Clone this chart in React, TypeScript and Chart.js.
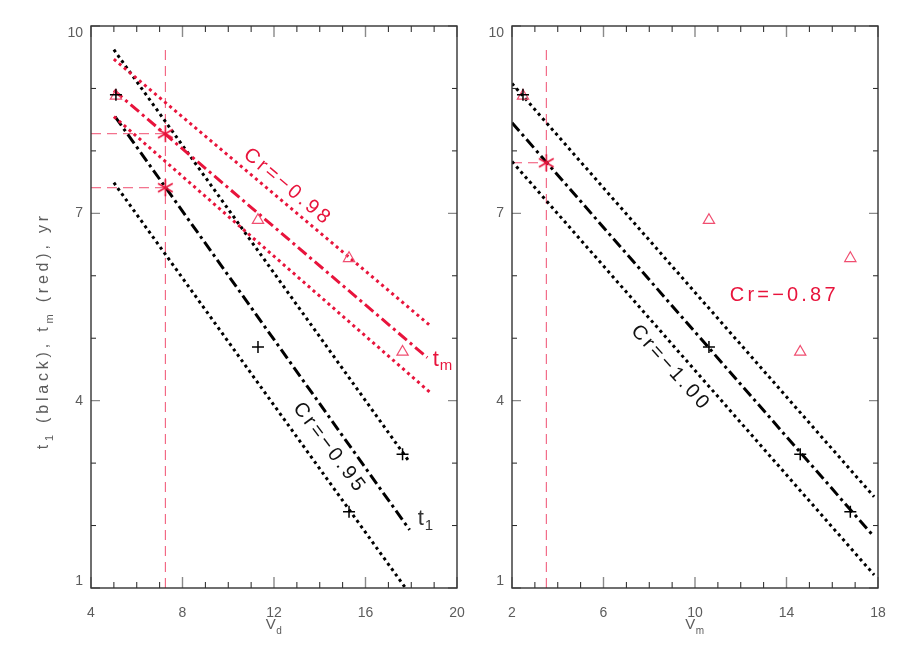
import React, { useEffect, useRef } from "react";
import { Chart, registerables } from "chart.js";
Chart.register(...registerables);

// ---- data ----
const vd = [5.09, 11.3, 15.28, 17.62];
const vm = [2.48, 10.61, 16.79, 14.6];
const t1 = [8.9, 4.86, 2.22, 3.14];
const tm = [8.88, 6.89, 6.28, 4.78];

const leftXTicks = [4, 8, 12, 16, 20];
const rightXTicks = [2, 6, 10, 14, 18];
const yTicks = [1, 4, 7, 10];

// marked (asterisk) points
const leftStarX = [7.25, 7.25];
const leftStarY = [7.41, 8.275];
const rightStarX = [3.5];
const rightStarY = [7.81];

// regression lines: [x0, y0, x1, y1]
const leftT1Fit = [5.05, 8.55, 17.93, 1.93];
const leftT1Upper = [5.0, 9.62, 17.9, 3.03];
const leftT1Lower = [5.0, 7.49, 17.75, 1.0];
const leftTmFit = [5.0, 8.97, 18.7, 4.69];
const leftTmUpper = [5.0, 9.47, 18.8, 5.21];
const leftTmLower = [5.0, 8.55, 18.8, 4.14];
const rightFit = [2.0, 8.45, 17.83, 1.82];
const rightUpper = [2.0, 9.08, 17.83, 2.46];
const rightLower = [2.0, 7.83, 17.83, 1.21];

const guideTop = 9.67;

const RED = "rgb(232, 20, 60)";
const PINK = "rgb(240, 78, 112)";
const GRAY = "#5c5c5c";
const FONT = "'Liberation Sans', Arial, sans-serif";

function asterisk(color: string, r: number) {
  const c = document.createElement("canvas");
  const s = Math.ceil(r * 2 + 4);
  c.width = s;
  c.height = s;
  const g = c.getContext("2d")!;
  g.strokeStyle = color;
  g.lineWidth = 1.6;
  g.translate(s / 2, s / 2);
  for (let k = 0; k < 3; k++) {
    const a = Math.PI / 2 + (k * Math.PI) / 3;
    g.beginPath();
    g.moveTo(Math.cos(a) * r, Math.sin(a) * r);
    g.lineTo(-Math.cos(a) * r, -Math.sin(a) * r);
    g.stroke();
  }
  return c;
}

type Part = { t: string; sub?: boolean };
type Label = {
  parts: Part[];
  x: number;
  y: number;
  angle: number;
  color: string;
  size: number;
  align: "center" | "left";
  spacing?: number;
};

function drawParts(ctx: CanvasRenderingContext2D, parts: Part[], size: number, align: string, spacing: number) {
  const subSize = Math.round(size * 0.68);
  let total = 0;
  const widths = parts.map((p) => {
    ctx.font = `${p.sub ? subSize : size}px ${FONT}`;
    (ctx as any).letterSpacing = "0px";
    const w = ctx.measureText(p.t).width + spacing * p.t.length;
    total += w;
    return w;
  });
  let x = align === "center" ? -total / 2 : 0;
  parts.forEach((p, i) => {
    ctx.font = `${p.sub ? subSize : size}px ${FONT}`;
    (ctx as any).letterSpacing = "0px";
    let cx = x;
    for (const ch of p.t) {
      ctx.fillText(ch, cx, p.sub ? size * 0.3 : 0);
      cx += ctx.measureText(ch).width + spacing;
    }
    x += widths[i];
  });
}

function makeConfig(opts: {
  xmin: number;
  xmax: number;
  xTicks: number[];
  yAxisWidth: number;
  padRight: number;
  xTitle: Part[];
  yTitle: Part[] | null;
  labels: Label[];
  datasets: any[];
}) {
  const framePlugin = {
    id: "frame",
    afterDatasetsDraw(chart: any) {
      const { ctx, chartArea: a, scales } = chart;
      const xs = scales.x;
      const ys = scales.y;
      ctx.save();
      for (let v = opts.xmin; v <= opts.xmax; v += 1) {
        const px = xs.getPixelForValue(v);
        const major = opts.xTicks.includes(v);
        const len = major ? 11 : 6;
        ctx.strokeStyle = major ? "#8a8a8a" : "#222";
        ctx.lineWidth = major ? 1.4 : 1;
        ctx.beginPath();
        ctx.moveTo(px, a.bottom);
        ctx.lineTo(px, a.bottom - len);
        ctx.moveTo(px, a.top);
        ctx.lineTo(px, a.top + len);
        ctx.stroke();
      }
      for (let v = 1; v <= 10; v += 1) {
        const py = ys.getPixelForValue(v);
        const major = yTicks.includes(v);
        const len = major ? 9 : 5;
        ctx.strokeStyle = major ? "#8a8a8a" : "#222";
        ctx.lineWidth = major ? 1.4 : 1;
        ctx.beginPath();
        ctx.moveTo(a.left, py);
        ctx.lineTo(a.left + len, py);
        ctx.moveTo(a.right, py);
        ctx.lineTo(a.right - len, py);
        ctx.stroke();
      }
      ctx.strokeStyle = "#333";
      ctx.lineWidth = 1.4;
      ctx.strokeRect(a.left, a.top, a.right - a.left, a.bottom - a.top);
      ctx.restore();
    },
    afterDraw(chart: any) {
      const { ctx, chartArea: a, scales } = chart;
      const xs = scales.x;
      const ys = scales.y;
      ctx.save();
      ctx.textBaseline = "middle";
      ctx.textAlign = "left";
      for (const L of opts.labels) {
        ctx.save();
        ctx.translate(xs.getPixelForValue(L.x), ys.getPixelForValue(L.y));
        ctx.rotate((L.angle * Math.PI) / 180);
        ctx.fillStyle = L.color;
        drawParts(ctx, L.parts, L.size, L.align, L.spacing ?? 0);
        ctx.restore();
      }
      // x title
      ctx.fillStyle = GRAY;
      ctx.textBaseline = "alphabetic";
      ctx.save();
      ctx.translate((a.left + a.right) / 2, a.bottom + 41);
      drawParts(ctx, opts.xTitle, 15, "center", 0.5);
      ctx.restore();
      if (opts.yTitle) {
        ctx.save();
        ctx.translate(48, ys.getPixelForValue(5.12));
        ctx.rotate(-Math.PI / 2);
        drawParts(ctx, opts.yTitle, 16, "center", 3.8);
        ctx.restore();
      }
      ctx.restore();
    },
  };

  return {
    type: "scatter" as const,
    data: { datasets: opts.datasets },
    options: {
      animation: false as const,
      responsive: false,
      layout: { padding: { top: 26, right: opts.padRight, left: 0, bottom: 0 } },
      plugins: { legend: { display: false }, tooltip: { enabled: false }, title: { display: false } },
      scales: {
        x: {
          type: "linear" as const,
          min: opts.xmin,
          max: opts.xmax,
          grid: { display: false, drawTicks: false },
          border: { display: false },
          afterBuildTicks: (s: any) => {
            s.ticks = opts.xTicks.map((v) => ({ value: v }));
          },
          afterFit: (s: any) => {
            s.height = 66;
            s.paddingLeft = 0;
            s.paddingRight = 0;
          },
          ticks: {
            color: GRAY,
            padding: 17,
            maxRotation: 0,
            font: { family: FONT, size: 14 },
            callback: (v: any) => String(v),
          },
        },
        y: {
          type: "linear" as const,
          min: 1,
          max: 10,
          grid: { display: false, drawTicks: false },
          border: { display: false },
          afterBuildTicks: (s: any) => {
            s.ticks = yTicks.map((v) => ({ value: v }));
          },
          afterFit: (s: any) => {
            s.width = opts.yAxisWidth;
            s.paddingTop = 0;
            s.paddingBottom = 0;
          },
          ticks: {
            color: GRAY,
            padding: 8,
            font: { family: FONT, size: 14, lineHeight: 1 },
            callback: (v: any) => (v === 10 ? ["", "10"] : v === 1 ? ["1", ""] : String(v)),
          },
        },
      },
    },
    plugins: [framePlugin],
  };
}

function seg(p: number[], color: string, dash: number[], width: number) {
  return {
    data: [
      { x: p[0], y: p[1] },
      { x: p[2], y: p[3] },
    ],
    showLine: true,
    borderColor: color,
    borderDash: dash,
    borderWidth: width,
    borderCapStyle: "butt",
    pointRadius: 0,
    fill: false,
  };
}

const DOT = [3, 3.6];
const DASHDOT = [11, 4, 3, 4];
const GUIDE = [10, 6];

function markers(xs: number[], ys: number[], style: any, color: string, radius: number, bw: number) {
  return {
    data: xs.map((x, i) => ({ x, y: ys[i] })),
    showLine: false,
    pointStyle: style,
    pointRadius: radius,
    borderColor: color,
    backgroundColor: "rgba(0,0,0,0)",
    borderWidth: bw,
  };
}

export default function App() {
  const leftRef = useRef<HTMLCanvasElement>(null);
  const rightRef = useRef<HTMLCanvasElement>(null);

  useEffect(() => {
    const star = asterisk(RED, 8.5);
    const leftGuides = [
      seg([leftStarX[0], 1, leftStarX[0], guideTop], PINK, GUIDE, 1),
      ...leftStarY.map((y, i) => seg([4, y, leftStarX[i], y], PINK, GUIDE, 1)),
    ];
    const left = new Chart(
      leftRef.current!,
      makeConfig({
        xmin: 4,
        xmax: 20,
        xTicks: leftXTicks,
        yAxisWidth: 91,
        padRight: 13,
        xTitle: [{ t: "V" }, { t: "d", sub: true }],
        yTitle: [{ t: "t" }, { t: "1", sub: true }, { t: " (black), t" }, { t: "m", sub: true }, { t: " (red), yr" }],
        labels: [
          { parts: [{ t: "Cr=−0.98" }], x: 12.6, y: 7.42, angle: 40, color: RED, size: 20, align: "center", spacing: 3.2 },
          { parts: [{ t: "Cr=−0.95" }], x: 14.43, y: 3.24, angle: 53, color: "#111", size: 20, align: "center", spacing: 3.2 },
          { parts: [{ t: "t" }, { t: "1", sub: true }], x: 18.28, y: 2.1, angle: 0, color: "#333", size: 22, align: "left", spacing: 1 },
          { parts: [{ t: "t" }, { t: "m", sub: true }], x: 18.94, y: 4.66, angle: 0, color: RED, size: 22, align: "left", spacing: 1 },
        ],
        datasets: [
          markers(leftStarX, leftStarY, star, RED, 8.5, 1.6),
          markers(vd, t1, "cross", "#000", 6, 1.5),
          markers(vd, tm, "triangle", PINK, 6.5, 1.2),
          seg(leftTmFit, RED, DASHDOT, 3),
          seg(leftTmUpper, RED, DOT, 3),
          seg(leftTmLower, RED, DOT, 3),
          seg(leftT1Fit, "#000", DASHDOT, 3),
          seg(leftT1Upper, "#000", DOT, 3),
          seg(leftT1Lower, "#000", DOT, 3),
          ...leftGuides,
        ],
      }) as any
    );
    const right = new Chart(
      rightRef.current!,
      makeConfig({
        xmin: 2,
        xmax: 18,
        xTicks: rightXTicks,
        yAxisWidth: 52,
        padRight: 37,
        xTitle: [{ t: "V" }, { t: "m", sub: true }],
        yTitle: null,
        labels: [
          { parts: [{ t: "Cr=−0.87" }], x: 11.52, y: 5.68, angle: 0, color: RED, size: 20, align: "left", spacing: 3.2 },
          { parts: [{ t: "Cr=−1.00" }], x: 8.94, y: 4.52, angle: 48, color: "#111", size: 20, align: "center", spacing: 3.2 },
        ],
        datasets: [
          markers(rightStarX, rightStarY, star, RED, 8.5, 1.6),
          markers(vm, t1, "cross", "#000", 6, 1.5),
          markers(vm, tm, "triangle", PINK, 6.5, 1.2),
          seg(rightFit, "#000", DASHDOT, 3),
          seg(rightUpper, "#000", DOT, 3),
          seg(rightLower, "#000", DOT, 3),
          seg([rightStarX[0], 1, rightStarX[0], guideTop], PINK, GUIDE, 1),
          seg([2, rightStarY[0], rightStarX[0], rightStarY[0]], PINK, GUIDE, 1),
        ],
      }) as any
    );
    return () => {
      left.destroy();
      right.destroy();
    };
  }, []);

  return (
    <div style={{ position: "absolute", left: 0, top: 0, width: 915, height: 654, background: "#fff" }}>
      <canvas ref={leftRef} width={470} height={654} style={{ position: "absolute", left: 0, top: 0, width: 470, height: 654 }} />
      <canvas ref={rightRef} width={455} height={654} style={{ position: "absolute", left: 460, top: 0, width: 455, height: 654 }} />
    </div>
  );
}
